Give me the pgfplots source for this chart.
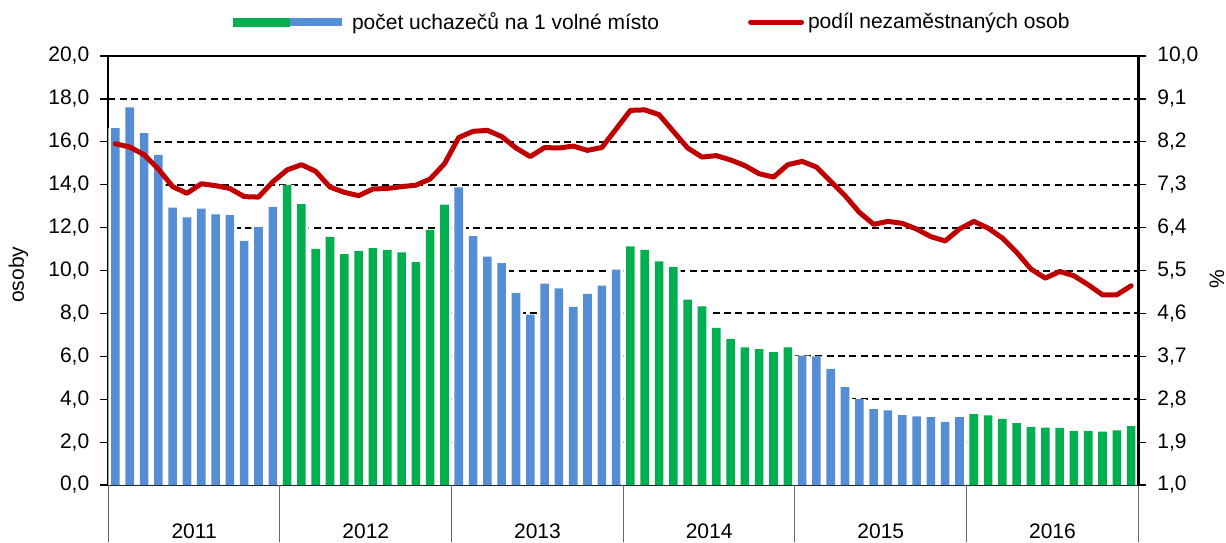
\documentclass[border=0pt]{standalone}
\usepackage{pgfplots}
\pgfplotsset{compat=1.18}
\usepackage{pgfplotstable}
\usepackage{fontspec}
\setmainfont{Liberation Sans}
\definecolor{cblue}{RGB}{85,142,213}
\definecolor{cgreen}{RGB}{0,176,80}
\definecolor{cred}{RGB}{192,0,0}
\pgfplotsset{/pgf/number format/.cd, fixed, fixed zerofill, precision=1, use comma, assume math mode=true}

% pocet uchazecu na 1 volne misto (blue years: 2011, 2013, 2015)
\pgfplotstableread{
x y
0 16.64
1 17.60
2 16.40
3 15.39
4 12.93
5 12.48
6 12.89
7 12.62
8 12.58
9 11.38
10 12.03
11 12.97
24 13.87
25 11.60
26 10.65
27 10.34
28 8.96
29 7.94
30 9.39
31 9.17
32 8.30
33 8.91
34 9.30
35 10.04
48 6.03
49 6.00
50 5.41
51 4.56
52 4.00
53 3.54
54 3.48
55 3.26
56 3.20
57 3.16
58 2.94
59 3.16
}\barsblue

% green years: 2012, 2014, 2016
\pgfplotstableread{
x y
12 13.99
13 13.09
14 11.01
15 11.57
16 10.76
17 10.91
18 11.04
19 10.95
20 10.85
21 10.39
22 11.89
23 13.07
36 11.13
37 10.96
38 10.42
39 10.17
40 8.64
41 8.33
42 7.32
43 6.81
44 6.42
45 6.33
46 6.19
47 6.42
60 3.31
61 3.25
62 3.08
63 2.88
64 2.71
65 2.67
66 2.66
67 2.52
68 2.52
69 2.49
70 2.55
71 2.75
}\barsgreen

% podil nezamestnanych osob (%)
\pgfplotstableread{
x y
0 8.16
1 8.09
2 7.93
3 7.63
4 7.26
5 7.12
6 7.32
7 7.28
8 7.22
9 7.05
10 7.04
11 7.36
12 7.61
13 7.72
14 7.58
15 7.25
16 7.14
17 7.07
18 7.21
19 7.22
20 7.26
21 7.29
22 7.42
23 7.74
24 8.29
25 8.42
26 8.44
27 8.31
28 8.07
29 7.89
30 8.08
31 8.07
32 8.11
33 8.02
34 8.08
35 8.47
36 8.86
37 8.87
38 8.77
39 8.42
40 8.07
41 7.88
42 7.91
43 7.82
44 7.70
45 7.53
46 7.46
47 7.72
48 7.79
49 7.67
50 7.37
51 7.07
52 6.72
53 6.47
54 6.53
55 6.49
56 6.37
57 6.21
58 6.12
59 6.37
60 6.53
61 6.39
62 6.18
63 5.88
64 5.53
65 5.34
66 5.48
67 5.39
68 5.20
69 4.99
70 4.99
71 5.18
}\linedata

\begin{document}
\begin{tikzpicture}[font=\fontsize{10.5}{12.6}\selectfont]
\path[use as bounding box] (-54.15pt,-28.5pt) rectangle (558.85pt,242.5pt);
\begin{axis}[
  width=515pt, height=214.5pt, scale only axis,
  xmin=-0.5, xmax=71.5, ymin=0, ymax=20,
  ytick={0,2,...,20},
  xtick=\empty,
  minor xtick={-0.5,0.5,...,71.5},
  extra x ticks={-0.5,11.5,23.5,35.5,47.5,59.5,71.5},
  extra x tick labels={},
  extra x tick style={major tick length=28.5pt, tick style={black!60, line width=0.5pt}},
  xtick pos=bottom, ytick pos=left,
  tick align=outside,
  major tick length=4pt, minor tick length=9pt,
  minor x tick style={black!60, line width=0.5pt},
  y tick style={black, line width=0.6pt},
  axis line style={line width=1.2pt},
  ymajorgrids=true,
  major grid style={black, line width=1pt, dash pattern=on 3.5pt off 2.2pt},
  yticklabel style={xshift=-2pt},
  ylabel={osoby},
  ylabel style={at={(axis description cs:-0.0872,0.49)}, anchor=center, rotate=0},
]
\addplot[ybar, bar width=1, bar shift=0pt, fill=white, draw=none] table[x=x,y=y] {\barsblue};
\addplot[ybar, bar width=1, bar shift=0pt, fill=white, draw=none] table[x=x,y=y] {\barsgreen};
\addplot[ybar, bar width=0.6, bar shift=0pt, fill=cblue, draw=none] table[x=x,y=y] {\barsblue};
\addplot[ybar, bar width=0.6, bar shift=0pt, fill=cgreen, draw=none] table[x=x,y=y] {\barsgreen};
\end{axis}
\begin{axis}[
  width=515pt, height=214.5pt, scale only axis,
  xmin=-0.5, xmax=71.5, ymin=1, ymax=10,
  axis y line*=right, axis x line*=bottom,
  x axis line style={draw=none},
  y axis line style={line width=1.3pt},
  ytick={1,1.9,2.8,3.7,4.6,5.5,6.4,7.3,8.2,9.1,10},
  xtick={5.5,17.5,29.5,41.5,53.5,65.5},
  xticklabels={2011,2012,2013,2014,2015,2016},
  x tick style={draw=none},
  xticklabel style={yshift=-12pt},
  tick align=outside,
  major tick length=4pt,
  y tick style={black, line width=0.6pt},
  yticklabel style={xshift=2pt},
  ylabel={\%},
  ylabel style={at={(axis description cs:1.0764,0.48)}, anchor=center, rotate=0},
  legend style={at={(axis description cs:0.1211,1.079)}, anchor=west, draw=none, fill=none,
    inner sep=0pt, outer sep=0pt, nodes={inner sep=0pt, anchor=west},
    /tikz/every even column/.append style={column sep=44.5pt}},
  legend columns=2,
  legend cell align=left,
]
\addlegendimage{legend image code/.code={
  \fill[cgreen, draw=none] (0pt,-2.25pt) rectangle (28.5pt,2.25pt);
  \fill[cblue, draw=none] (28.5pt,-2pt) rectangle (54.5pt,2pt);
  \path[draw=none, fill=none] (0pt,0pt) -- (59.5pt,0pt);}}
\addlegendentry{počet uchazečů na 1 volné místo}
\addplot[cred, line width=2.5pt, line join=round, line cap=round,
  legend image code/.code={\draw[cred, line width=2.5pt, line cap=round] (1.25pt,0pt) -- (26.75pt,0pt); \path[draw=none] (0pt,0pt) -- (30pt,0pt);}]
  table[x=x,y=y] {\linedata};
\addlegendentry{podíl nezaměstnaných osob}
\end{axis}
\end{tikzpicture}
\end{document}
